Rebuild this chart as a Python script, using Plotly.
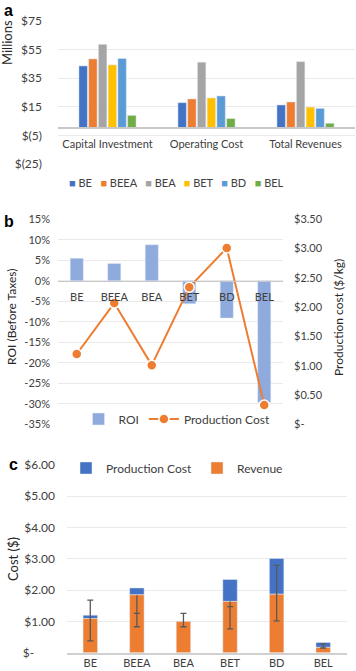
import plotly.graph_objects as go

W, H = 356, 671
FONT = "Lato"
TXT = "#404040"

# ---------------- data ----------------
# Panel a
groups = ["Capital Investment", "Operating Cost", "Total Revenues"]
scenarios = ["BE", "BEEA", "BEA", "BET", "BD", "BEL"]
colors_a = ["#4472C4", "#ED7D31", "#A5A5A5", "#FFC000", "#5B9BD5", "#70AD47"]
capital = [43.6, 48.5, 58.7, 44.3, 48.8, 9.0]
operating = [17.9, 20.5, 46.2, 21.2, 22.6, 6.8]
revenues_total = [16.3, 18.4, 46.6, 14.8, 13.9, 3.5]
a_ticks = [-25, -5, 15, 35, 55, 75]

# Panel b
roi = [5.5, 4.2, 8.8, -5.6, -9.1, -29.7]          # percent
prod_cost = [1.20, 2.07, 1.01, 2.34, 3.01, 0.33]  # $/kg
roi_ticks = [-35, -30, -25, -20, -15, -10, -5, 0, 5, 10, 15]
b_cost_ticks = [0, 0.5, 1.0, 1.5, 2.0, 2.5, 3.0, 3.5]

# Panel c
revenue = [1.09, 1.85, 1.00, 1.64, 1.87, 0.17]
err_low = [0.38, 0.83, 0.83, 0.76, 1.02, 0.15]
err_high = [1.68, 1.26, 1.26, 1.47, 2.79, 0.28]
err_ext = [None, 1.84, None, 1.64, None, None]
c_ticks = [0, 1, 2, 3, 4, 5, 6]


def money_paren(v):
    return f"$({abs(v)})" if v < 0 else f"${v}"


def money2(v):
    return "$-" if v == 0 else f"${v:.2f}"


def px_x(p):
    return p / W


def px_y(p):
    return 1 - p / H


fig = go.Figure()

# ---------------- panel a ----------------
for name, col, c, o, r in zip(scenarios, colors_a, capital, operating, revenues_total):
    fig.add_trace(go.Bar(x=groups, y=[c, o, r], name=name, marker_color=col,
                         xaxis="x", yaxis="y", showlegend=False))

# ---------------- panel b ----------------
fig.add_trace(go.Bar(x=scenarios, y=roi, name="ROI", marker_color="#8FAADC", width=0.35,
                     xaxis="x2", yaxis="y2", legend="legend2"))
fig.add_trace(go.Scatter(x=scenarios, y=prod_cost, name="Production Cost", mode="lines+markers",
                         line=dict(color="#ED7D31", width=2),
                         marker=dict(color="#ED7D31", size=10, line=dict(color="white", width=1.5)),
                         xaxis="x2", yaxis="y3", legend="legend2"))

# ---------------- panel c ----------------
top_seg = [p - r for p, r in zip(prod_cost, revenue)]
fig.add_trace(go.Bar(x=scenarios, y=top_seg, base=revenue, name="Production Cost",
                     marker_color="#4472C4", width=0.31, offsetgroup="c",
                     xaxis="x3", yaxis="y4", legend="legend3"))
fig.add_trace(go.Bar(x=scenarios, y=revenue, name="Revenue", marker_color="#ED7D31",
                     width=0.31, offsetgroup="c", xaxis="x3", yaxis="y4", legend="legend3"))
mid = [(l + h) / 2 for l, h in zip(err_low, err_high)]
half = [(h - l) / 2 for l, h in zip(err_low, err_high)]
fig.add_trace(go.Scatter(x=scenarios, y=mid, mode="markers",
                         marker=dict(size=1, color="rgba(0,0,0,0)"),
                         error_y=dict(type="data", symmetric=False, array=half, arrayminus=half,
                                      color="#595959", thickness=1.3, width=3),
                         xaxis="x3", yaxis="y4", showlegend=False, hoverinfo="skip"))
ext_len = [(e - h) if e is not None else None for e, h in zip(err_ext, err_high)]
fig.add_trace(go.Scatter(x=scenarios, y=err_ext, mode="markers",
                         marker=dict(size=1, color="rgba(0,0,0,0)"),
                         error_y=dict(type="data", symmetric=False,
                                      array=[0 if v is not None else None for v in ext_len],
                                      arrayminus=ext_len,
                                      color="#595959", thickness=1.3, width=0),
                         xaxis="x3", yaxis="y4", showlegend=False, hoverinfo="skip"))

# ---------------- layout ----------------
ya_dom = [px_y(164), px_y(21)]
a_rng = [-25, 75]
a_zero = ya_dom[0] + (0 - a_rng[0]) / (a_rng[1] - a_rng[0]) * (ya_dom[1] - ya_dom[0])

yb_dom = [px_y(424.3), px_y(219.3)]
b_rng = [-35, 15]
b_zero = yb_dom[0] + (0 - b_rng[0]) / (b_rng[1] - b_rng[0]) * (yb_dom[1] - yb_dom[0])

yc_dom = [px_y(652.7), px_y(465)]

tickf = dict(family=FONT, size=11, color=TXT)
tickf12 = dict(family=FONT, size=12, color=TXT)
grid = "#EAEAEA"

fig.update_layout(
    width=W, height=H, margin=dict(l=0, r=0, t=0, b=0, autoexpand=False),
    paper_bgcolor="white", plot_bgcolor="white",
    barmode="group", bargap=0.41, bargroupgap=0.13,
    font=dict(family=FONT, color=TXT),
    xaxis=dict(domain=[px_x(58), px_x(355)], anchor="free", position=a_zero,
               showline=True, linecolor="#C8C8C8", linewidth=1.5, showgrid=False,
               ticks="", tickfont=dict(family=FONT, size=11, color=TXT), ticklabelstandoff=6),
    yaxis=dict(domain=ya_dom, range=a_rng, tickvals=a_ticks,
               ticktext=[money_paren(v) for v in a_ticks],
               showgrid=True, gridcolor=grid, zeroline=False, showline=False,
               tickfont=tickf12, ticklabelstandoff=15),
    xaxis2=dict(domain=[px_x(58), px_x(283)], anchor="free", position=b_zero,
                showline=True, linecolor="#C8C8C8", linewidth=1.2, showgrid=False,
                ticks="", tickfont=tickf, ticklabelstandoff=6),
    yaxis2=dict(domain=yb_dom, range=b_rng, tickvals=roi_ticks,
                ticktext=[f"{v}%" for v in roi_ticks],
                showgrid=True, gridcolor=grid, zeroline=False, showline=False,
                tickfont=tickf, ticklabelstandoff=7, anchor="x2"),
    yaxis3=dict(domain=yb_dom, range=[0, 3.5], tickvals=b_cost_ticks,
                ticktext=[money2(v) for v in b_cost_ticks],
                overlaying="y2", side="right", anchor="x2", showgrid=False,
                zeroline=False, showline=False, tickfont=tickf, ticklabelstandoff=10),
    xaxis3=dict(domain=[px_x(67), px_x(346.5)], anchor="y4",
                showline=True, linecolor="#D0D0D0", linewidth=1.5, showgrid=False,
                ticks="", tickfont=tickf, ticklabelstandoff=-1),
    yaxis4=dict(domain=yc_dom, range=[0, 6], tickvals=c_ticks,
                ticktext=["$-\u2007\u2007\u2007" if v == 0 else f"${v:.2f}" for v in c_ticks],
                showgrid=True, gridcolor=grid, zeroline=False, showline=False,
                tickfont=tickf12, ticklabelstandoff=11, anchor="x3"),
    legend2=dict(orientation="h", x=px_x(177), y=px_y(419), xanchor="center", yanchor="middle",
                 bgcolor="rgba(0,0,0,0)", font=dict(family=FONT, size=12, color=TXT),
                 itemwidth=30),
    legend3=dict(orientation="h", x=px_x(177), y=px_y(468), xanchor="center", yanchor="middle",
                 bgcolor="rgba(0,0,0,0)", font=dict(family=FONT, size=12, color=TXT),
                 itemwidth=30),
)

# legend for panel a (compact Excel-like)
leg_a = "&nbsp;&nbsp;&nbsp;".join(
    f"<span style='color:{c}'>■</span> {n}" for n, c in zip(scenarios, colors_a))


def ann(text, x, y, size, color="#262626", family=FONT, angle=0):
    return dict(text=text, x=px_x(x), y=px_y(y), xref="paper", yref="paper",
                xanchor="center", yanchor="middle", textangle=angle, showarrow=False,
                font=dict(family=family, size=size, color=color))


annotations = [
    ann(leg_a, 176, 182, 11, TXT),
    ann("<b>a</b>", 8.5, 10, 16, "black", "Liberation Sans"),
    ann("<b>b</b>", 8.5, 222, 16, "black", "Liberation Sans"),
    ann("<b>c</b>", 13, 464, 16, "black", "Liberation Sans"),
    ann("Millions", 7, 43, 13, angle=-90),
    ann("ROI (Before Taxes)", 12, 317, 12, angle=-90),
    ann("Production cost ($/kg)", 338, 318, 12, angle=-90),
    ann("Cost ($)", 13, 559, 13, angle=-90),
]
fig.update_layout(annotations=annotations)

fig.write_html("out.html", config={"displayModeBar": False},
               post_script="document.body.style.margin='0px';document.body.style.padding='0px';")
